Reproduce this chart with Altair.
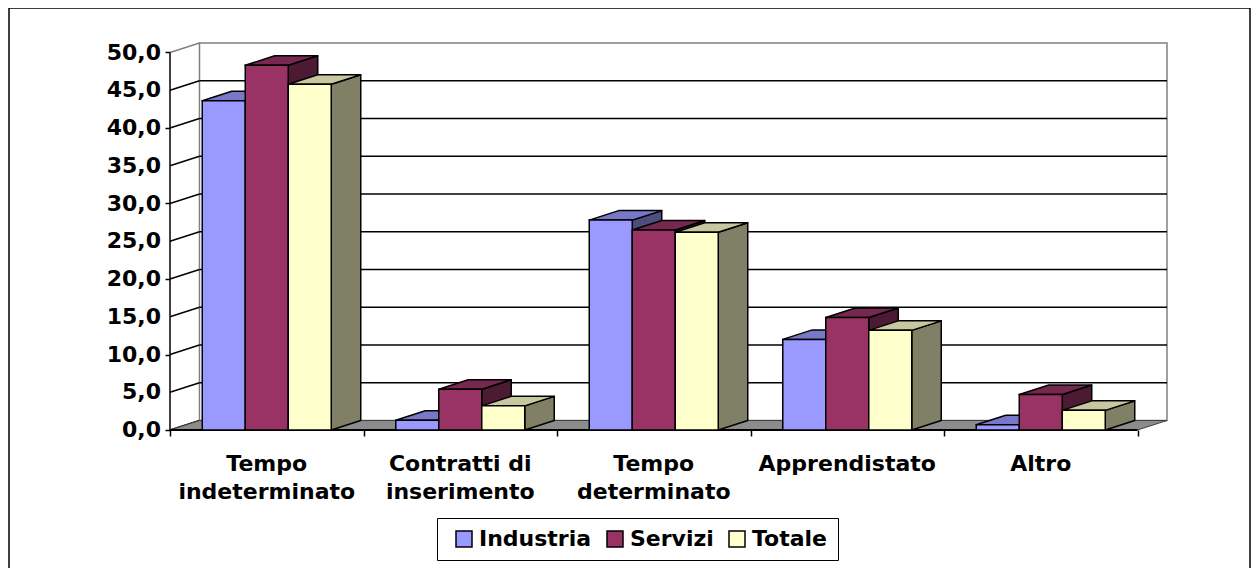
import altair as alt
import pandas as pd

# ---------------- data ----------------
categories = ["Tempo indeterminato", "Contratti di inserimento", "Tempo determinato",
              "Apprendistato", "Altro"]
category_labels = ["Tempo\nindeterminato", "Contratti di\ninserimento", "Tempo\ndeterminato",
                   "Apprendistato", "Altro"]
series = ["Industria", "Servizi", "Totale"]
industria = [43.6, 1.3, 27.8, 12.0, 0.7]
servizi = [48.3, 5.4, 26.5, 14.9, 4.7]
totale = [45.8, 3.2, 26.2, 13.2, 2.6]
y_ticks = [0, 5, 10, 15, 20, 25, 30, 35, 40, 45, 50]

front_colors = ["#9999FF", "#993366", "#FFFFCC"]
top_colors = ["#7878C8", "#772850", "#C8C8A0"]
side_colors = ["#4D4D80", "#4D1A33", "#808066"]

# ---------------- geometry (3-D look) ----------------
PX_PER_CAT = 193.6
PX_PER_VAL = 7.55
DX = 29.5 / PX_PER_CAT          # depth offset, in category units
DY = 9.5 / PX_PER_VAL           # depth offset, in value units
YMAX = 50
N = len(categories)
W = round((N + DX) * PX_PER_CAT)
H = round((YMAX + DY) * PX_PER_VAL)
BAR_W = 1 / 4.5
GAP = 0.75 * BAR_W

values = [industria, servizi, totale]
front_rows, top_rows, side_rows = [], [], []
for i in range(N):
    for j, s in enumerate(series):
        v = values[j][i]
        x0 = i + GAP + j * BAR_W
        x1 = x0 + BAR_W
        bid = f"{i}-{j}"
        front_rows.append(dict(bar=bid, series=s, x0=x0, x1=x1, zero=0.0, v=v))
        top_rows.append(dict(bar=bid, c=top_colors[j], y=v, xa=x0, xb=x1))
        top_rows.append(dict(bar=bid, c=top_colors[j], y=v + DY, xa=x0 + DX, xb=x1 + DX))
        side_rows.append(dict(bar=bid, c=side_colors[j], x=x1, ylo=0.0, yhi=v))
        side_rows.append(dict(bar=bid, c=side_colors[j], x=x1 + DX, ylo=DY, yhi=v + DY))
front_df = pd.DataFrame(front_rows)
top_df = pd.DataFrame(top_rows)
side_df = pd.DataFrame(side_rows)

xs = alt.Scale(domain=[0, N + DX], nice=False, zero=False)
ys = alt.Scale(domain=[0, YMAX + DY], nice=False, zero=False)
FONT = "DejaVu Sans"

x_axis = alt.Axis(values=list(range(N + 1)), labels=False, tickSize=6,
                  tickColor="black", tickWidth=1.5, domain=False, grid=False, title=None)
y_axis = alt.Axis(values=y_ticks, labels=False, tickSize=5, tickColor="black",
                  tickWidth=1.5, domain=False, grid=False, title=None)

# back wall (carries the axes)
wall_df = pd.DataFrame({"x": [DX], "x2": [N + DX], "y": [DY], "y2": [YMAX + DY]})
wall = alt.Chart(wall_df).mark_rect(fill="white", stroke="#808080", strokeWidth=1.5).encode(
    x=alt.X("x:Q", scale=xs, axis=x_axis), x2="x2:Q",
    y=alt.Y("y:Q", scale=ys, axis=y_axis), y2="y2:Q")

# y tick labels (decimal comma)
ytl_df = pd.DataFrame({"v": y_ticks,
                       "t": [f"{t:.1f}".replace(".", ",") for t in y_ticks]})
ytick_labels = alt.Chart(ytl_df).mark_text(font=FONT, fontWeight="bold", fontSize=22,
                                           align="right", baseline="middle",
                                           color="black").encode(
    x=alt.value(-9), y=alt.Y("v:Q", scale=ys), text="t:N")

# back wall gridlines
grid_df = pd.DataFrame({"y": [t + DY for t in y_ticks[1:-1]], "x": DX, "x2": N + DX})
grid = alt.Chart(grid_df).mark_rule(color="black", strokeWidth=1.5).encode(
    x=alt.X("x:Q", scale=xs), x2="x2:Q",
    y=alt.Y("y:Q", scale=ys))

# left wall slanted lines
lw_df = pd.DataFrame({"x": 0.0, "x2": DX, "y": y_ticks, "y2": [t + DY for t in y_ticks],
                      "c": ["black"] * (len(y_ticks) - 1) + ["#808080"]})
leftwall = alt.Chart(lw_df).mark_rule(strokeWidth=1.5).encode(
    x=alt.X("x:Q", scale=xs), x2="x2:Q",
    y=alt.Y("y:Q", scale=ys), y2="y2:Q",
    color=alt.Color("c:N", scale=None))

# floor
floor_df = pd.DataFrame({"y": [0.0, DY], "xa": [0.0, DX], "xb": [N, N + DX], "g": ["f", "f"]})
floor = alt.Chart(floor_df).mark_area(orient="horizontal", fill="#8C8C8C", stroke="#404040",
                                      strokeWidth=1).encode(
    y=alt.Y("y:Q", scale=ys, stack=None),
    x=alt.X("xa:Q", scale=xs, stack=None), x2="xb:Q", detail="g:N")

floor_edge_df = pd.DataFrame({"x": [0.0], "x2": [float(N)], "y": [0.0]})
floor_edge = alt.Chart(floor_edge_df).mark_rule(color="black", strokeWidth=2).encode(
    x=alt.X("x:Q", scale=xs), x2="x2:Q",
    y=alt.Y("y:Q", scale=ys))

axis_df = pd.DataFrame({"x": [0.0], "y": [0.0], "y2": [float(YMAX)]})
front_axis = alt.Chart(axis_df).mark_rule(color="black", strokeWidth=1.5).encode(
    x=alt.X("x:Q", scale=xs),
    y=alt.Y("y:Q", scale=ys), y2="y2:Q")

# bars: sides, tops, fronts
sides = alt.Chart(side_df).mark_area(orient="vertical", stroke="black", strokeWidth=1.5,
                                     strokeJoin="round").encode(
    x=alt.X("x:Q", scale=xs, stack=None),
    y=alt.Y("ylo:Q", scale=ys, stack=None), y2="yhi:Q",
    detail="bar:N", fill=alt.Fill("c:N", scale=None))

tops = alt.Chart(top_df).mark_area(orient="horizontal", stroke="black", strokeWidth=1.5,
                                   strokeJoin="round").encode(
    y=alt.Y("y:Q", scale=ys, stack=None),
    x=alt.X("xa:Q", scale=xs, stack=None), x2="xb:Q",
    detail="bar:N", fill=alt.Fill("c:N", scale=None))

fronts = alt.Chart(front_df).mark_rect(stroke="black", strokeWidth=1.5).encode(
    x=alt.X("x0:Q", scale=xs), x2="x1:Q",
    y=alt.Y("zero:Q", scale=ys), y2="v:Q",
    color=alt.Color("series:N", scale=alt.Scale(domain=series, range=front_colors),
                    sort=series,
                    legend=alt.Legend(orient="none", legendX=267, legendY=475,
                                      direction="horizontal", title=None,
                                      strokeColor="black", fillColor="white", padding=10,
                                      symbolType="square", symbolSize=256, symbolOffset=6,
                                      symbolStrokeColor="black", symbolStrokeWidth=1.5,
                                      symbolOpacity=1, labelOffset=4, columnPadding=6,
                                      labelFont=FONT, labelFontWeight="bold",
                                      labelFontSize=22, labelColor="black")))

lab_df = pd.DataFrame({"label": category_labels, "xc": [i + 0.5 for i in range(N)]})
labels = alt.Chart(lab_df).mark_text(font=FONT, fontWeight="bold", fontSize=22, lineBreak="\n",
                                     lineHeight=28, align="center", baseline="alphabetic",
                                     color="black").encode(
    x=alt.X("xc:Q", scale=xs), y=alt.value(428), text="label:N")

frame_df = pd.DataFrame({"a": [0]})
frame = alt.Chart(frame_df).mark_rect(fill=None, stroke="black", strokeWidth=1.5).encode(
    x=alt.value(-161), x2=alt.value(W + 83), y=alt.value(-35), y2=alt.value(H + 160))

chart = alt.layer(wall, grid, leftwall, floor, floor_edge, front_axis,
                  sides, tops, fronts, labels, ytick_labels, frame).properties(
    width=W, height=H,
    padding={"left": 162, "top": 35, "right": 84, "bottom": 138},
    autosize=alt.AutoSizeParams(type="none"),
    background="white",
).configure_view(stroke=None)

chart.save("out.html", embed_options={"renderer": "svg", "actions": False})
